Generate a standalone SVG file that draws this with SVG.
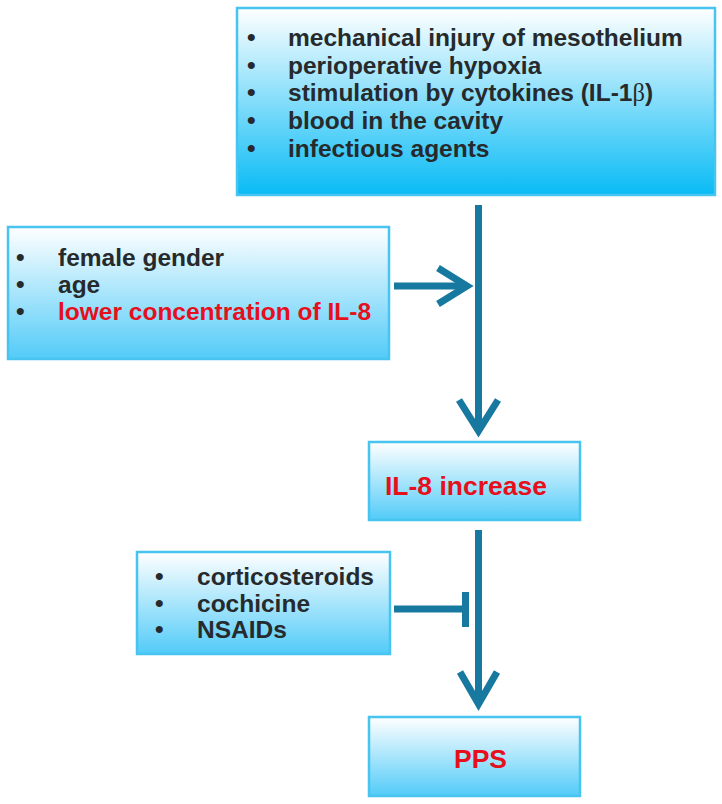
<svg xmlns="http://www.w3.org/2000/svg" width="722" height="804" viewBox="0 0 722 804">
<defs>
<linearGradient id="gTop" x1="0" y1="0" x2="0" y2="1">
<stop offset="0" stop-color="#ffffff"/>
<stop offset="1" stop-color="#08bbf5"/>
</linearGradient>
<linearGradient id="gBox" x1="0" y1="0" x2="0" y2="1">
<stop offset="0" stop-color="#ffffff"/>
<stop offset="1" stop-color="#52cbf8"/>
</linearGradient>
<style>
.box{stroke:#47c4f0;stroke-width:2.5}
.t{font-family:"Liberation Sans",Arial,sans-serif;font-weight:bold;font-size:24.5px;fill:#262a2c}
.r{fill:#e5101b}
.big{font-family:"Liberation Sans",Arial,sans-serif;font-weight:bold;font-size:26.5px;fill:#e5101b}
.c{stroke:#17799f;stroke-width:7;fill:none}
</style>
</defs>
<rect width="722" height="804" fill="#ffffff"/>
<g id="causes">
<rect class="box" x="237" y="8" width="478" height="187" fill="url(#gTop)"/>
<text class="t" x="247" y="46">•</text><text class="t" x="288" y="46">mechanical injury of mesothelium</text>
<text class="t" x="247" y="74">•</text><text class="t" x="288" y="74">perioperative hypoxia</text>
<text class="t" x="247" y="101">•</text><text class="t" x="288" y="101">stimulation by cytokines (IL-1<tspan font-weight="normal" font-family="'Liberation Serif','Times New Roman',serif">β</tspan>)</text>
<text class="t" x="247" y="129">•</text><text class="t" x="288" y="129">blood in the cavity</text>
<text class="t" x="247" y="157">•</text><text class="t" x="288" y="157">infectious agents</text>
</g>
<g id="risk">
<rect class="box" x="8" y="227" width="381" height="132" fill="url(#gBox)"/>
<text class="t" x="16" y="266">•</text><text class="t" x="58" y="266">female gender</text>
<text class="t" x="16" y="293">•</text><text class="t" x="58" y="293">age</text>
<text class="t" x="16" y="320">•</text><text class="t r" x="58" y="320">lower concentration of IL-8</text>
</g>
<g id="il8">
<rect class="box" x="369" y="442" width="211" height="78" fill="url(#gBox)"/>
<text class="big" x="385" y="495">IL-8 increase</text>
</g>
<g id="drugs">
<rect class="box" x="137" y="552" width="253" height="102" fill="url(#gBox)"/>
<text class="t" x="155" y="585">•</text><text class="t" x="197" y="585">corticosteroids</text>
<text class="t" x="155" y="612">•</text><text class="t" x="197" y="612">cochicine</text>
<text class="t" x="155" y="638">•</text><text class="t" x="197" y="638">NSAIDs</text>
</g>
<g id="pps">
<rect class="box" x="369" y="717" width="211" height="79" fill="url(#gBox)"/>
<text class="big" x="454" y="768">PPS</text>
</g>
<g id="connectors">
<line class="c" x1="478.5" y1="205" x2="478.5" y2="431"/>
<polyline class="c" points="459,400 478.5,431 498,400"/>
<line class="c" x1="394" y1="286" x2="467" y2="286"/>
<polyline class="c" points="438,268 467,286 438,304"/>
<line class="c" x1="478.5" y1="530" x2="478.5" y2="704"/>
<polyline class="c" points="460,672 478.5,704 497,672"/>
<line class="c" x1="394" y1="609" x2="465" y2="609"/>
<rect x="462" y="592" width="7" height="35" fill="#17799f"/>
</g>
</svg>
